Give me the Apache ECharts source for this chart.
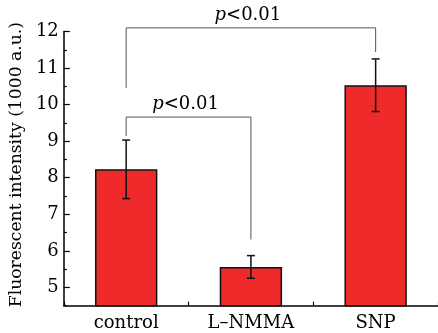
<!DOCTYPE html>
<html>
<head>
<meta charset="utf-8">
<script src="https://cdn.jsdelivr.net/npm/echarts@6/dist/echarts.min.js"></script>
<style>
  html, body { margin: 0; padding: 0; background: #fff; }
  #chart { width: 438px; height: 333px; }
</style>
</head>
<body>
<div id="chart"></div>
<script>
// data
var groups = ['control', 'L\u2013NMMA', 'SNP'];
var means = [8.23, 5.56, 10.53];
var errs = [0.80, 0.31, 0.72];
var majorTicks = [5, 6, 7, 8, 9, 10, 11, 12];
var minorTicks = [4.5, 5.5, 6.5, 7.5, 8.5, 9.5, 10.5, 11.5];
// brackets: [from, to, top, leftEnd, rightEnd]
var brackets = [
  [0, 2, 12.1, 10.46, 11.44],
  [0, 1, 9.66, 9.14, 6.31]
];
var sigText = ['p<0.01', 'p<0.01'];

var font = 'DejaVu Serif';
var chart = echarts.init(document.getElementById('chart'));

var errData = groups.map(function (g, i) {
  return [i, means[i] - errs[i], means[i] + errs[i]];
});

chart.setOption({
  animation: false,
  grid: { left: 63, right: -1, top: 31.5, bottom: 27.3 },
  xAxis: [
    {
      type: 'category',
      data: groups,
      axisLine: { lineStyle: { color: '#000', width: 1.5 } },
      axisTick: { show: true, inside: true, length: 4, lineStyle: { color: '#000', width: 1.2 } },
      axisLabel: { color: '#000', fontFamily: font, fontSize: 18, margin: 9 }
    },
    {
      type: 'category',
      data: groups,
      position: 'bottom',
      axisLine: { show: false },
      axisTick: { show: true, inside: true, alignWithLabel: true, length: 5, lineStyle: { color: '#000', width: 1.2 } },
      axisLabel: { show: false }
    }
  ],
  yAxis: [
    {
      type: 'value',
      min: 4.5,
      max: 12,
      name: 'Fluorescent intensity (1000 a.u.)',
      nameLocation: 'middle',
      nameGap: 38,
      nameTextStyle: { color: '#000', fontFamily: font, fontSize: 17.2, padding: [0, 0, 0, 8] },
      splitLine: { show: false },
      axisLine: { show: true, lineStyle: { color: '#000', width: 1.5 } },
      axisTick: { show: true, inside: true, length: 6, customValues: majorTicks, lineStyle: { color: '#000', width: 1.2 } },
      axisLabel: { color: '#000', fontFamily: font, fontSize: 18, margin: 5, customValues: majorTicks }
    },
    {
      type: 'value',
      min: 4.5,
      max: 12,
      position: 'left',
      splitLine: { show: false },
      axisLine: { show: false },
      axisTick: { show: true, inside: true, length: 3, customValues: minorTicks, lineStyle: { color: '#000', width: 1.2 } },
      axisLabel: { show: false }
    }
  ],
  series: [
    {
      type: 'bar',
      data: means,
      barWidth: '50%',
      itemStyle: { color: '#ee2a2a', borderColor: '#111', borderWidth: 1.5 }
    },
    {
      type: 'custom',
      data: errData,
      z: 5,
      renderItem: function (params, api) {
        var lo = api.coord([api.value(0), api.value(1)]);
        var hi = api.coord([api.value(0), api.value(2)]);
        var w = 4;
        var st = { stroke: '#111', lineWidth: 1.5 };
        return {
          type: 'group',
          children: [
            { type: 'line', shape: { x1: hi[0], y1: hi[1], x2: lo[0], y2: lo[1] }, style: st },
            { type: 'line', shape: { x1: hi[0] - w, y1: hi[1], x2: hi[0] + w, y2: hi[1] }, style: st },
            { type: 'line', shape: { x1: lo[0] - w, y1: lo[1], x2: lo[0] + w, y2: lo[1] }, style: st }
          ]
        };
      }
    },
    {
      type: 'custom',
      data: brackets,
      z: 4,
      clip: false,
      renderItem: function (params, api) {
        var a = api.coord([api.value(0), api.value(2)]);
        var b = api.coord([api.value(1), api.value(2)]);
        var aEnd = api.coord([api.value(0), api.value(3)]);
        var bEnd = api.coord([api.value(1), api.value(4)]);
        var txt = sigText[params.dataIndex].replace('p', '');
        return {
          type: 'group',
          children: [
            {
              type: 'polyline',
              shape: { points: [aEnd, a, b, bEnd] },
              style: { stroke: '#555', lineWidth: 1, fill: null }
            },
            {
              type: 'text',
              x: (a[0] + b[0]) / 2 - 3,
              y: a[1] - 4,
              style: {
                text: '{i|p}{n|' + txt + '}',
                align: 'center',
                verticalAlign: 'bottom',
                fill: '#000',
                fontFamily: font,
                fontSize: 18,
                rich: {
                  i: { fontStyle: 'italic', fontFamily: font, fontSize: 18, fill: '#000' },
                  n: { fontFamily: font, fontSize: 18, fill: '#000' }
                }
              }
            }
          ]
        };
      }
    }
  ]
});
</script>
</body>
</html>
